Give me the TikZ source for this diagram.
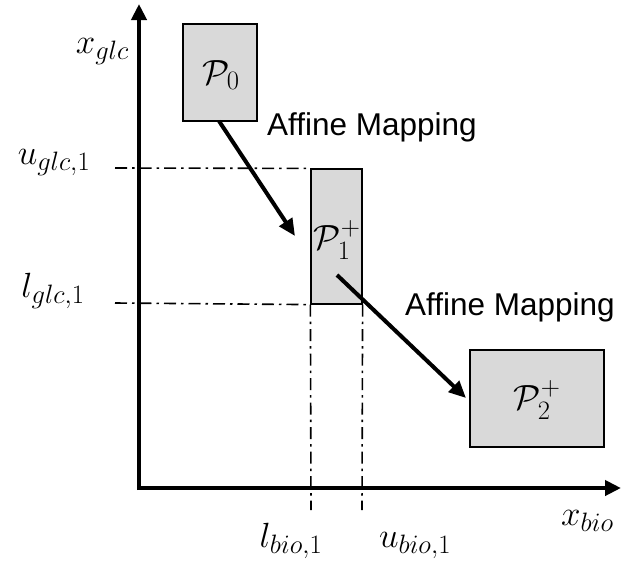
\RequirePackage{fix-cm}
\documentclass[tikz,border=0pt]{standalone}
\usepackage{amsmath}
\usepackage{amssymb}
\usepackage[no-math]{fontspec}
\usepackage{xcolor}
\usepackage{tikz}
\usetikzlibrary{arrows.meta,positioning}
\newfontfamily\labelfont{Liberation Sans}
\definecolor{boxgray}{HTML}{D9D9D9}
\renewcommand{\defaultscriptratio}{.76}
\renewcommand{\defaultscriptscriptratio}{.6}
\tikzset{
  pbox/.style={draw=black, line width=1.2pt, fill=boxgray, inner sep=0pt},
  ax/.style={-{Triangle[length=16pt,width=15pt]}, line width=4pt},
  ar/.style={-{Triangle[length=17pt,width=15pt]}, line width=4pt},
  guide/.style={line width=1.6pt, dash pattern=on 12pt off 5pt on 2.5pt off 5pt},
  lbl/.style={font=\labelfont\fontsize{31.5}{38}\selectfont, inner sep=0pt},
  mlbl/.style={font=\fontsize{35}{42}\selectfont, inner sep=0pt},
}
\begin{document}
\begin{tikzpicture}[x=1pt,y=-1pt]
  \useasboundingbox (0,0) rectangle (621,560);
  % axes
  \coordinate (orig) at (139,488);
  \coordinate (ytip) at (139,4);
  \coordinate (xtip) at (621,488);
  \draw[ax] ([yshift=-2pt]orig) -- (ytip);
  \draw[ax] ([xshift=-2pt]orig) -- (xtip);
  % sets
  \node[pbox, minimum width=74pt, minimum height=97pt] (p0) at (220,72.5) {};
  \node[pbox, minimum width=51pt, minimum height=135pt] (p1) at (336.5,236.5) {};
  \node[pbox, minimum width=134pt, minimum height=97pt] (p2) at (537,398.5) {};
  \node[mlbl] (p0l) at (221,75) {$\mathcal{P}_0$};
  \node[mlbl] (p1l) at (337,240) {$\mathcal{P}_1^+$};
  \node[mlbl] (p2l) at (537,400) {$\mathcal{P}_2^+$};
  % bounds of P1+
  \coordinate (ug) at (115,168);
  \coordinate (lg) at (115,303);
  \coordinate (lb) at (311,510);
  \coordinate (ub) at (362,510);
  \draw[guide] (ug) -- (p1.north west);
  \draw[guide] (lg) -- (p1.south west);
  \draw[guide] (p1.south west) -- (lb);
  \draw[guide] (p1.south east) -- (ub);
  % mappings
  \coordinate (a1s) at (219,121);
  \coordinate (a1e) at (295,236);
  \coordinate (a2s) at (337,275);
  \coordinate (a2e) at (466,398);
  \draw[ar] (a1s) -- (a1e);
  \draw[ar] (a2s) -- (a2e);
  \node[lbl, anchor=base west] (m1) at (267,135) {Affine Mapping};
  \node[lbl, anchor=base west] (m2) at (405,315) {Affine Mapping};
  % axis labels
  \node[mlbl, anchor=base east] (xg) at (129,53) {$x_{glc}$};
  \node[mlbl, anchor=base] (ugl) at (54,164) {$u_{glc,1}$};
  \node[mlbl, anchor=base] (lgl) at (53,297) {$l_{glc,1}$};
  \node[mlbl, anchor=base] (lbl1) at (291,547) {$l_{bio,1}$};
  \node[mlbl, anchor=base] (ubl) at (415,547) {$u_{bio,1}$};
  \node[mlbl, anchor=base west] (xb) at (561,525) {$x_{bio}$};
\end{tikzpicture}
\end{document}
